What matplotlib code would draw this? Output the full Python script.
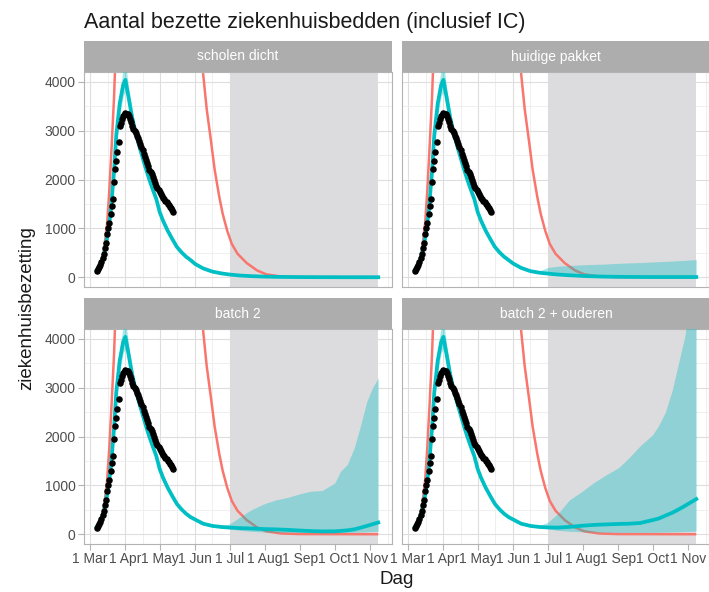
import numpy as np
import matplotlib
matplotlib.use("Agg")
import matplotlib.pyplot as plt
import matplotlib.dates as mdates

plt.rcParams['font.family'] = ['Liberation Sans', 'DejaVu Sans']

# ---- data ----
panel_titles = ["scholen dicht", "huidige pakket", "batch 2", "batch 2 + ouderen"]

# observed occupancy, daily from 7 March
obs_start = "2020-03-07"
obs_values = [120, 160, 200, 250, 310, 400, 480, 590, 710, 880, 1000, 1100, 1290,
              1450, 1610, 1950, 2220, 2380, 2560, 2770, 3090, 3150, 3230, 3300, 3330,
              3360, 3350, 3340, 3300, 3230, 3170, 3100, 3040, 3000, 2960, 2900, 2840,
              2780, 2720, 2660, 2600, 2520, 2460, 2400, 2340, 2280, 2200, 2150, 2110,
              2050, 1990, 1930, 1870, 1820, 1780,
              1735, 1700, 1660, 1630, 1600, 1560, 1530, 1500, 1470, 1440, 1410, 1380, 1340]

# unmitigated model (red)
red_dates = ["03-07", "03-10", "03-13", "03-16", "03-18", "03-20", "03-22", "03-23",
             "03-26", "04-15", "05-15", "05-28", "06-04", "06-08", "06-11", "06-15",
             "06-18", "06-22", "06-25", "06-29", "07-03", "07-08", "07-16", "07-25",
             "08-02", "08-15", "09-01", "11-08"]
red_values = [120, 250, 500, 1100, 1800, 2700, 3650, 4300, 6500, 20000, 20000, 8000,
              5200, 4150, 3450, 2750, 2200, 1650, 1300, 950, 680, 480, 290, 140, 60,
              15, 3, 0]

# scenario model (cyan), common part up to end of May
early_dates = ["03-07", "03-10", "03-13", "03-16", "03-19", "03-22", "03-24", "03-27",
               "03-30", "04-01", "04-04", "04-07", "04-10", "04-13", "04-16", "04-19",
               "04-22", "04-25", "04-28", "05-01", "05-04", "05-08", "05-12", "05-16",
               "05-20", "05-24", "05-28"]
early_line = [150, 260, 450, 800, 1300, 2150, 2900, 3550, 3930, 4040, 3650, 3250, 2950,
              2690, 2450, 2210, 1990, 1790, 1600, 1330, 1150, 950, 780, 620, 510, 420, 350]
early_low = [130, 230, 400, 720, 1180, 1980, 2700, 3330, 3700, 3800, 3480, 3100, 2820,
             2570, 2340, 2110, 1900, 1710, 1520, 1270, 1100, 900, 740, 585, 480, 395, 330]
early_high = [170, 290, 500, 880, 1420, 2330, 3120, 3800, 4250, 4400, 3850, 3420, 3080,
              2810, 2560, 2310, 2080, 1870, 1680, 1400, 1210, 1000, 820, 655, 540, 445, 370]

late_dates = ["06-01", "06-08", "06-16", "06-24", "07-01", "07-10", "07-20", "08-01",
              "08-10", "08-20", "09-01", "09-10", "09-20", "10-01", "10-06", "10-12",
              "10-18", "10-23", "10-29", "11-03", "11-08"]

schools_line = [270, 180, 115, 78, 55, 35, 22, 12, 8, 5, 3, 2, 1, 1, 0, 0, 0, 0, 0, 0, 0]
schools_low = [250, 165, 100, 66, 45, 26, 15, 7, 4, 2, 1, 0, 0, 0, 0, 0, 0, 0, 0, 0, 0]
schools_high = [290, 198, 130, 92, 68, 48, 34, 24, 20, 17, 15, 14, 13, 12, 12, 12, 12,
                12, 12, 12, 12]

current_line = [280, 190, 125, 92, 75, 55, 40, 25, 18, 12, 8, 6, 5, 4, 4, 4, 4, 4, 4, 4, 4]
current_low = [260, 175, 110, 80, 60, 40, 25, 12, 6, 3, 1, 0, 0, 0, 0, 0, 0, 0, 0, 0, 0]
current_high = [300, 210, 145, 130, 200, 225, 240, 255, 262, 270, 285, 292, 300, 312,
                318, 325, 332, 338, 346, 354, 360]

batch2_line = [300, 215, 170, 148, 136, 125, 118, 105, 100, 90, 75, 65, 58, 60, 68, 80,
               100, 130, 170, 205, 240]
batch2_low = [280, 200, 155, 132, 110, 80, 60, 45, 40, 38, 35, 32, 30, 30, 32, 36, 40,
              45, 50, 55, 60]
batch2_high = [320, 232, 190, 175, 210, 350, 500, 630, 700, 750, 830, 880, 895, 1050,
               1290, 1430, 1770, 2180, 2720, 3000, 3200]

elderly_line = [300, 215, 170, 148, 140, 135, 150, 175, 190, 200, 210, 215, 230, 290,
                320, 380, 440, 500, 580, 650, 720]
elderly_low = [280, 200, 155, 132, 110, 80, 60, 50, 45, 42, 40, 40, 40, 40, 42, 45, 48,
               50, 55, 60, 65]
elderly_high = [320, 232, 190, 180, 240, 420, 700, 890, 1050, 1200, 1360, 1560, 1810,
                2040, 2220, 2500, 2950, 3450, 4050, 4800, 5400]

scenarios = [(schools_line, schools_low, schools_high),
             (current_line, current_low, current_high),
             (batch2_line, batch2_low, batch2_high),
             (elderly_line, elderly_low, elderly_high)]

shade_start = "2020-07-01"
shade_end = "2020-11-08"

month_ticks = ["2020-03-01", "2020-04-01", "2020-05-01", "2020-06-01", "2020-07-01",
               "2020-08-01", "2020-09-01", "2020-10-01", "2020-11-01"]
month_labels = ["1 Mar", "1 Apr", "1 May", "1 Jun", "1 Jul", "1 Aug", "1 Sep",
                "1 Oct", "1 Nov"]
y_ticks = [0, 1000, 2000, 3000, 4000]


def to_num(md_list):
    return mdates.date2num(np.array(["2020-" + d for d in md_list], dtype="datetime64[D]"))


red_x = to_num(red_dates)
early_x = to_num(early_dates)
late_x = to_num(late_dates)
obs_x = mdates.date2num(np.datetime64(obs_start) + np.arange(len(obs_values)))
major_x = mdates.date2num(np.array(month_ticks, dtype="datetime64[D]"))
minor_x = list((major_x[:-1] + major_x[1:]) / 2) + [major_x[-1] + 15.25]
xlim = (mdates.date2num(np.datetime64("2020-02-25")) - 0.2,
        mdates.date2num(np.datetime64("2020-11-20")))

RED = "#F8766D"
CYAN = "#00BFC4"
W, H = 709, 592

fig = plt.figure(figsize=(W / 100, H / 100), dpi=100)
fig.text(84 / W, 1 - 28 / H, "Aantal bezette ziekenhuisbedden (inclusief IC)",
         fontsize=15.5, color="#1a1a1a", va="baseline", ha="left")

col_x = [84, 402]
strip_top = [41, 298]
panel_w, strip_h, panel_h = 308, 31, 215

for i, title in enumerate(panel_titles):
    r, c = divmod(i, 2)
    x0 = col_x[c]
    st = strip_top[r]
    sax = fig.add_axes([x0 / W, 1 - (st + strip_h) / H, panel_w / W, strip_h / H])
    sax.set_facecolor("#ADADAD")
    sax.set_xticks([])
    sax.set_yticks([])
    for sp in sax.spines.values():
        sp.set_visible(False)
    sax.text(0.5, 0.5, title, color="white", fontsize=10, ha="center", va="center",
             transform=sax.transAxes)

    top = st + strip_h
    ax = fig.add_axes([x0 / W, 1 - (top + panel_h) / H, panel_w / W, panel_h / H])
    ax.set_xlim(*xlim)
    ax.set_ylim(-200, 4200)
    ax.set_xticks(major_x)
    ax.set_xticks(minor_x, minor=True)
    ax.set_yticks(y_ticks)
    ax.set_yticks([500, 1500, 2500, 3500], minor=True)
    ax.set_axisbelow(True)
    ax.grid(which="major", color="#DEDEDE", lw=0.8)
    ax.grid(which="minor", color="#EDEDED", lw=0.6)
    ax.tick_params(which="minor", length=0)
    ax.tick_params(which="major", color="#B3B3B3", length=4, width=0.8,
                   labelsize=10, labelcolor="#4D4D4D", pad=2)
    for sp in ax.spines.values():
        sp.set_color("#B3B3B3")
        sp.set_linewidth(0.8)

    if r == 1:
        ax.set_xticklabels(month_labels)
    else:
        ax.set_xticklabels([])
        ax.tick_params(axis="x", length=0)
    if c == 1:
        ax.set_yticklabels([])
        ax.tick_params(axis="y", length=0)

    ax.axvspan(mdates.date2num(np.datetime64(shade_start)),
               mdates.date2num(np.datetime64(shade_end)),
               color="#DCDCDE", lw=0, zorder=1)

    ax.plot(red_x, red_values, color=RED, lw=1.8, zorder=2, solid_capstyle="butt")

    line, low, high = scenarios[i]
    mx = np.concatenate([early_x, late_x])
    ax.fill_between(mx, early_low + low, early_high + high, color=CYAN, alpha=0.35,
                    lw=0, zorder=3)
    ax.plot(mx, early_line + line, color=CYAN, lw=2.7, zorder=4)
    ax.scatter(obs_x, obs_values, s=22, color="black", lw=0, zorder=5)

fig.text(27 / W, 1 - 308 / H, "ziekenhuisbezetting", rotation=90, fontsize=13.5,
         ha="center", va="center", color="#1a1a1a")
fig.text(397 / W, 1 - 579 / H, "Dag", fontsize=13.5, ha="center", va="center",
         color="#1a1a1a")

fig.savefig("out.png", dpi=100)
